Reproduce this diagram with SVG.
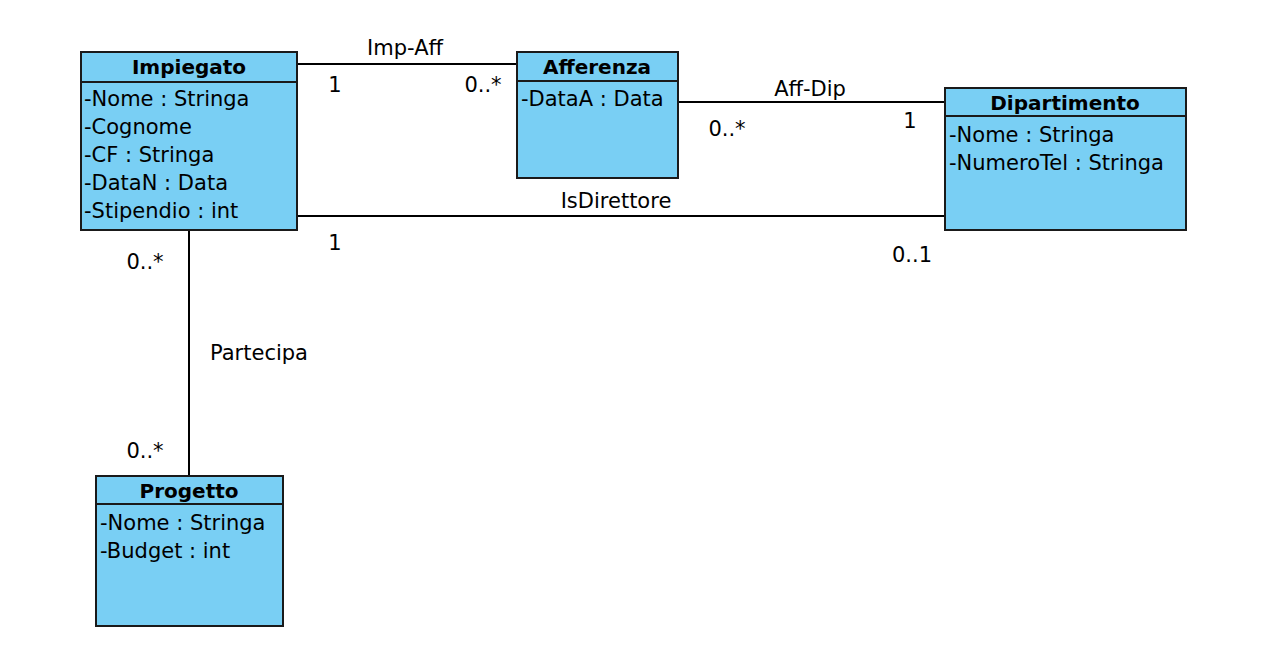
<svg xmlns="http://www.w3.org/2000/svg" width="1272" height="650" viewBox="0 0 1272 650">
<style>
.box{fill:#79CFF4;stroke:#1a1a1a;stroke-width:2}
.div{stroke:#1a1a1a;stroke-width:2}
.t{font-family:"DejaVu Sans","Liberation Sans",sans-serif;font-size:21px;fill:#000}
.h{font-family:"DejaVu Sans","Liberation Sans",sans-serif;font-size:20px;font-weight:bold;fill:#000;text-anchor:middle}
.c{stroke:#000;stroke-width:2;fill:none}
.l{font-family:"DejaVu Sans","Liberation Sans",sans-serif;font-size:21px;fill:#000}
.m{text-anchor:middle}
</style>
<rect width="1272" height="650" fill="#fff"/>
<g id="connectors">
<line class="c" x1="297" y1="64" x2="517" y2="64"/>
<line class="c" x1="678" y1="102" x2="945" y2="102"/>
<line class="c" x1="297" y1="216" x2="945" y2="216"/>
<line class="c" x1="189" y1="231" x2="189" y2="476"/>
<text class="l m" x="405" y="55">Imp-Aff</text>
<text class="l m" x="335" y="92">1</text>
<text class="l m" x="483" y="92">0..*</text>
<text class="l m" x="810" y="96">Aff-Dip</text>
<text class="l m" x="727" y="136">0..*</text>
<text class="l m" x="910" y="128">1</text>
<text class="l m" x="616" y="208">IsDirettore</text>
<text class="l m" x="335" y="250">1</text>
<text class="l m" x="912" y="262">0..1</text>
<text class="l m" x="145" y="269">0..*</text>
<text class="l" x="210" y="360">Partecipa</text>
<text class="l m" x="145" y="458">0..*</text>
</g>
<g id="Impiegato">
<rect class="box" x="81" y="52" width="216" height="178"/>
<line class="div" x1="81" y1="82" x2="297" y2="82"/>
<text class="h" x="189" y="74">Impiegato</text>
<text class="t" x="84" y="106">-Nome : Stringa</text>
<text class="t" x="84" y="134">-Cognome</text>
<text class="t" x="84" y="162">-CF : Stringa</text>
<text class="t" x="84" y="190">-DataN : Data</text>
<text class="t" x="84" y="218">-Stipendio : int</text>
</g>
<g id="Afferenza">
<rect class="box" x="517" y="52" width="161" height="126"/>
<line class="div" x1="517" y1="81" x2="678" y2="81"/>
<text class="h" x="597" y="74">Afferenza</text>
<text class="t" x="521" y="106">-DataA : Data</text>
</g>
<g id="Dipartimento">
<rect class="box" x="945" y="88" width="241" height="142"/>
<line class="div" x1="945" y1="116" x2="1186" y2="116"/>
<text class="h" x="1065" y="110">Dipartimento</text>
<text class="t" x="949" y="142">-Nome : Stringa</text>
<text class="t" x="949" y="170">-NumeroTel : Stringa</text>
</g>
<g id="Progetto">
<rect class="box" x="96" y="476" width="187" height="150"/>
<line class="div" x1="96" y1="504" x2="283" y2="504"/>
<text class="h" x="189" y="498">Progetto</text>
<text class="t" x="100" y="530">-Nome : Stringa</text>
<text class="t" x="100" y="558">-Budget : int</text>
</g>
</svg>
